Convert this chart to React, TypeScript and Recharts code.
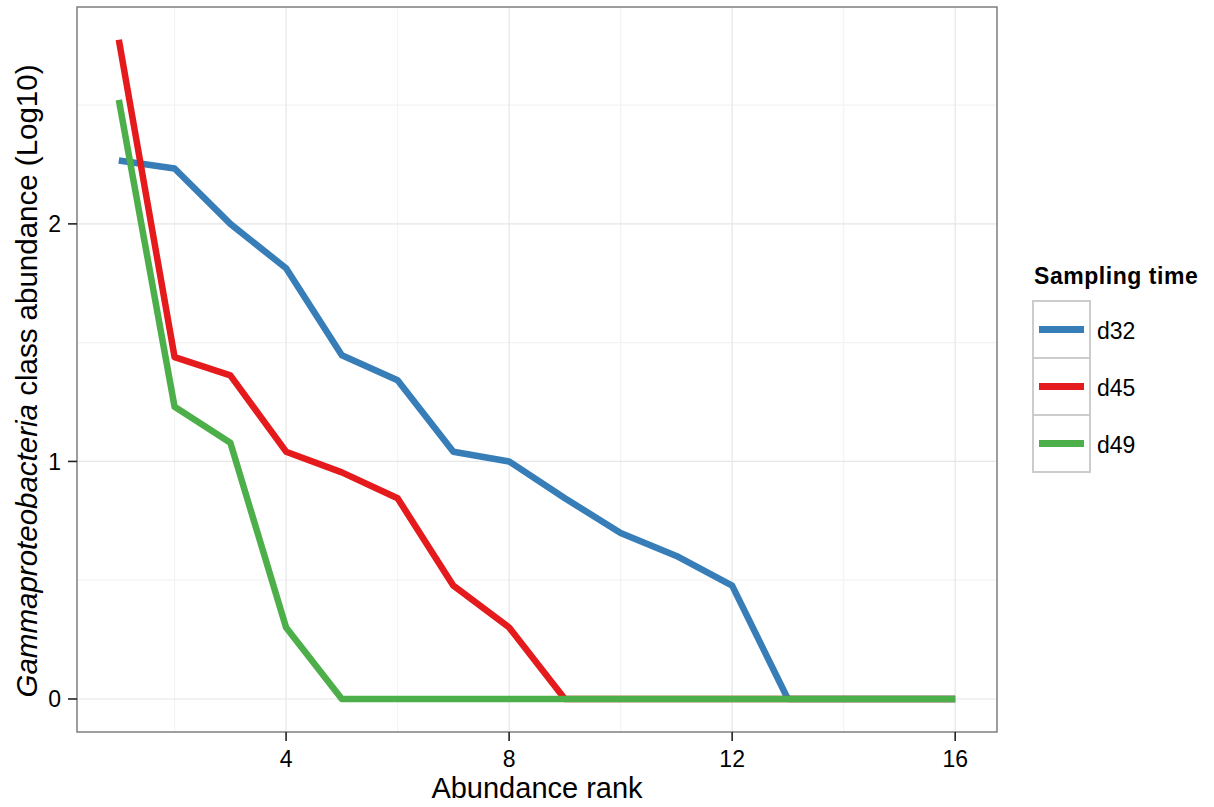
import React from 'react';
import { LineChart, Line, XAxis, YAxis, CartesianGrid, ReferenceArea } from 'recharts';

const ranks = [1, 2, 3, 4, 5, 6, 7, 8, 9, 10, 11, 12, 13, 14, 15, 16];
const d32 = [2.267, 2.233, 2.0, 1.813, 1.447, 1.342, 1.041, 1.0, 0.845, 0.699, 0.602, 0.477, 0, 0, 0, 0];
const d45 = [2.775, 1.439, 1.362, 1.041, 0.954, 0.845, 0.477, 0.301, 0, 0, 0, 0, 0, 0, 0, 0];
const d49 = [2.522, 1.23, 1.079, 0.301, 0, 0, 0, 0, 0, 0, 0, 0, 0, 0, 0, 0];
const seriesNames = ['d32', 'd45', 'd49'];
const colors = ['#377EB8', '#E41A1C', '#4DAF4A'];
const xTicks = [4, 8, 12, 16];
const yTicks = [0, 1, 2];
const xMinor = [2, 6, 10, 14];
const yMinor = [0.5, 1.5, 2.5];

const data = ranks.map((r, i) => ({ rank: r, d32: d32[i], d45: d45[i], d49: d49[i] }));

const FONT = '"Liberation Sans", Arial, Helvetica, sans-serif';

const YLabel = () => {
  const cy = 381;
  const x = 37;
  return (
    <text
      x={x}
      y={cy}
      transform={`rotate(-90, ${x}, ${cy})`}
      textAnchor="middle"
      fontSize={29.5}
      fontFamily={FONT}
      fill="#000"
    >
      <tspan fontStyle="italic">Gammaproteobacteria</tspan>
      <tspan> class abundance (Log10)</tspan>
    </text>
  );
};

const XLabel = (props: any) => {
  const vb = props.viewBox || {};
  const cx = vb.x + vb.width / 2;
  return (
    <text x={cx} y={798} textAnchor="middle" fontSize={29} fontFamily={FONT} fill="#000">
      Abundance rank
    </text>
  );
};

const LegendBox = () => (
  <div style={{ position: 'absolute', left: 1032, top: 264, fontFamily: FONT, color: '#000' }}>
    <div style={{ fontWeight: 'bold', fontSize: 23, letterSpacing: 0.55, height: 36, lineHeight: '24px', marginLeft: 2, whiteSpace: 'nowrap' }}>
      Sampling time
    </div>
    <div style={{ display: 'flex', flexDirection: 'column' }}>
      {seriesNames.map((n, i) => (
        <div key={n} style={{ display: 'flex', alignItems: 'center', height: 59, marginTop: i === 0 ? 0 : -2 }}>
          <div
            style={{
              width: 59,
              height: 59,
              border: '2px solid #cccccc',
              display: 'flex',
              alignItems: 'center',
              justifyContent: 'center',
              boxSizing: 'border-box',
              background: '#fff',
            }}
          >
            <div style={{ width: 45, height: 7, background: colors[i] }} />
          </div>
          <span style={{ fontSize: 23, marginLeft: 6, marginTop: 3 }}>{n}</span>
        </div>
      ))}
    </div>
  </div>
);

export default function App() {
  return (
    <div style={{ position: 'absolute', left: 0, top: 0, width: 1214, height: 807, background: '#fff' }}>
      <LineChart
        width={1214}
        height={807}
        data={data}
        margin={{ top: 7, right: 217, bottom: 0, left: 0 }}
      >
        <CartesianGrid
          stroke="#f3f3f3"
          strokeWidth={1.2}
          verticalValues={xMinor}
          horizontalValues={yMinor}
        />
        <CartesianGrid
          stroke="#e6e6e6"
          strokeWidth={1.2}
          verticalValues={xTicks}
          horizontalValues={yTicks}
        />
        <XAxis
          dataKey="rank"
          type="number"
          domain={[0.25, 16.75]}
          ticks={xTicks}
          allowDataOverflow
          axisLine={false}
          tickLine={{ stroke: '#222', strokeWidth: 1.6 }}
          tickSize={9}
          height={75}
          tick={{ fill: '#000', fontSize: 23, fontFamily: FONT }}
          tickMargin={10}
          label={<XLabel />}
        />
        <YAxis
          type="number"
          domain={[-0.139, 2.913]}
          ticks={yTicks}
          allowDataOverflow
          axisLine={false}
          tickLine={{ stroke: '#222', strokeWidth: 1.6 }}
          tickSize={9}
          width={77}
          tick={{ fill: '#000', fontSize: 23, fontFamily: FONT }}
          tickMargin={7}
          label={<YLabel />}
        />
        <ReferenceArea
          x1={0.25}
          x2={16.75}
          y1={-0.139}
          y2={2.913}
          fill="none"
          stroke="#7f7f7f"
          strokeWidth={1.5}
          ifOverflow="visible"
        />
        {seriesNames.map((n, i) => (
          <Line
            key={n}
            dataKey={n}
            stroke={colors[i]}
            strokeWidth={6.5}
            dot={false}
            activeDot={false}
            isAnimationActive={false}
            strokeLinejoin="round"
          />
        ))}
      </LineChart>
      <LegendBox />
    </div>
  );
}
